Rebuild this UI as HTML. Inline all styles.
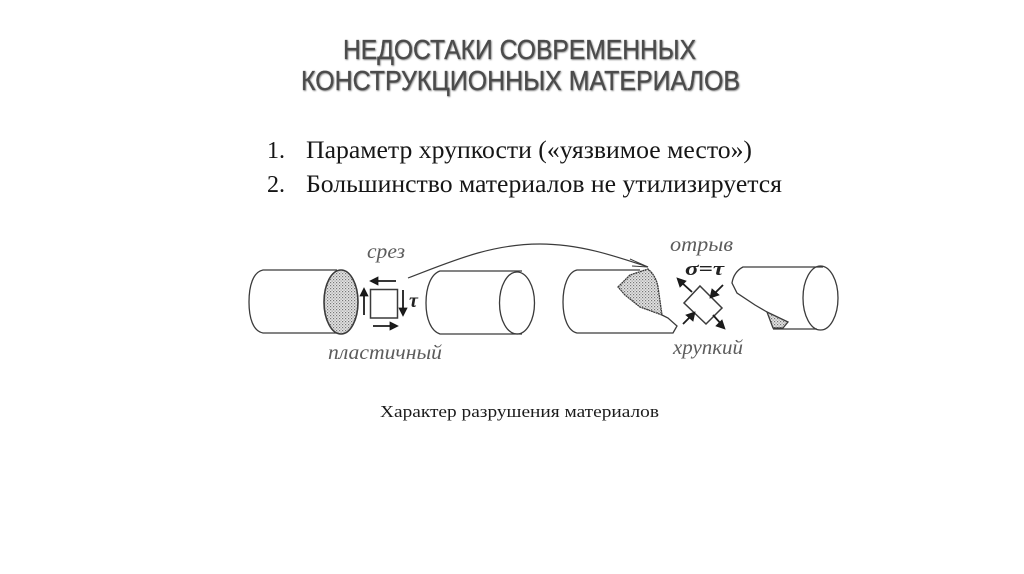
<!DOCTYPE html>
<html><head><meta charset="utf-8"><style>
html,body{margin:0;padding:0;background:#fff;width:1024px;height:574px;overflow:hidden}
svg{display:block}
</style></head><body>
<svg width="1024" height="574" viewBox="0 0 1024 574" xmlns="http://www.w3.org/2000/svg">
<defs>
<pattern id="d" width="3" height="3" patternUnits="userSpaceOnUse"><rect width="3" height="3" fill="#e4e4e4"/><rect x="0" y="0" width="1.200" height="1.200" fill="#777"/><rect x="1.500" y="1.500" width="1.200" height="1.200" fill="#999"/></pattern>
<filter id="b" x="-5%" y="-5%" width="110%" height="110%"><feGaussianBlur stdDeviation="0.3"/></filter>
<filter id="s" x="-5%" y="-20%" width="110%" height="140%"><feDropShadow dx="0.8" dy="0.8" stdDeviation="0.8" flood-color="#777" flood-opacity="0.9"/></filter>
</defs>

<g font-family="'Liberation Sans',sans-serif" font-size="28" fill="#4c4c4c" stroke="#4c4c4c" stroke-width="0.300" filter="url(#s)">
<text x="343" y="59" textLength="353" lengthAdjust="spacingAndGlyphs">НЕДОСТАКИ СОВРЕМЕННЫХ</text>
<text x="301" y="90" textLength="439" lengthAdjust="spacingAndGlyphs">КОНСТРУКЦИОННЫХ МАТЕРИАЛОВ</text>
</g>

<g font-family="'Liberation Serif',serif" font-size="25" fill="#161616">
<text x="267" y="158" font-size="24">1.</text>
<text x="306" y="158" textLength="446" lengthAdjust="spacingAndGlyphs">Параметр хрупкости («уязвимое место»)</text>
<text x="267" y="192" font-size="24">2.</text>
<text x="306" y="192" textLength="476" lengthAdjust="spacingAndGlyphs">Большинство материалов не утилизируется</text>
</g>
<text x="380" y="417" font-family="'Liberation Serif',serif" font-size="17" fill="#1c1c1c" textLength="279" lengthAdjust="spacingAndGlyphs">Характер разрушения материалов</text>

<g filter="url(#b)">
<g fill="none" stroke="#3a3a3a" stroke-width="1.300">
<!-- cylinder 1 -->
<path d="M337 270H263C253 272 249 286 249 302C249 318 253 331 263 333H337"/>
<ellipse cx="341" cy="302" rx="17" ry="32" fill="url(#d)" stroke-width="1.600"/>
<!-- square -->
<rect x="370.500" y="289.500" width="27" height="28.500" stroke-width="1.500"/>
<!-- cylinder 2 -->
<path d="M522 271H440C431 274 426 287 426 303C426 319 431 331 440 334H522"/>
<ellipse cx="517" cy="303" rx="17.500" ry="31"/>
<!-- curve -->
<path d="M408 278C450 262 490 244 540 244C580 244 615 256 648 267" stroke-width="1.200"/>
<path d="M630 259L648 267L632 266" stroke-width="1"/>
<!-- cylinder 3 -->
<path d="M640 270H577C568 272 563 286 563 302C563 318 568 331 577 333H673L677 326L668 318L662 315"/>
<path d="M618 287L630 275L648 269C654 274 657 281 658 287L662 315L640 307L625 295Z" fill="url(#d)" stroke-dasharray="2 0.500"/>
<!-- diamond -->
<path d="M700 286L722 308L706 324L684 303Z" stroke-width="1.500"/>
<!-- cylinder 4 -->
<path d="M823 267H743C737 270 733 276 732 283L737 293L755 305L767 312"/>
<path d="M773 329H817"/>
<ellipse cx="820.500" cy="298" rx="17.500" ry="32"/>
<path d="M767 312L788 322L783 328L773 328Z" fill="url(#d)"/>
</g>

<!-- arrows -->
<g fill="none" stroke="#1a1a1a" stroke-width="1.800">
<path d="M396 281H372"/><path d="M378 277L370 281L378 285Z" fill="#1a1a1a" stroke-width="0.800"/>
<path d="M364 315V292"/><path d="M360 296L364 288L368 296Z" fill="#1a1a1a" stroke-width="0.800"/>
<path d="M403 290V310"/><path d="M399 308L403 316L407 308Z" fill="#1a1a1a" stroke-width="0.800"/>
<path d="M373 326H392"/><path d="M390 322L398 326L390 330Z" fill="#1a1a1a" stroke-width="0.800"/>
<path d="M692 292L681 282"/><path d="M677 278L686 281L680 287Z" fill="#1a1a1a" stroke-width="0.800"/>
<path d="M723 285L713 295"/><path d="M710 298L712 289L719 295Z" fill="#1a1a1a" stroke-width="0.800"/>
<path d="M683 324L692 315"/><path d="M695 312L693 321L686 315Z" fill="#1a1a1a" stroke-width="0.800"/>
<path d="M713 315L722 325"/><path d="M725 329L716 326L722 320Z" fill="#1a1a1a" stroke-width="0.800"/>
</g>
</g>

<g font-family="'Liberation Serif',serif" font-style="italic" fill="#5c5c5c" filter="url(#b)">
<text x="367" y="258" font-size="20" textLength="38" lengthAdjust="spacingAndGlyphs">срез</text>
<text x="328" y="359" font-size="20" textLength="114" lengthAdjust="spacingAndGlyphs">пластичный</text>
<text x="670" y="251" font-size="20" textLength="63" lengthAdjust="spacingAndGlyphs">отрыв</text>
<text x="673" y="354" font-size="20" textLength="70" lengthAdjust="spacingAndGlyphs">хрупкий</text>
<text x="409" y="307" font-size="20" font-weight="bold" fill="#222">τ</text>
<text x="685" y="275" font-size="19" font-weight="bold" fill="#222" textLength="39" lengthAdjust="spacingAndGlyphs">σ=τ</text>
</g>
</svg>
</body></html>
